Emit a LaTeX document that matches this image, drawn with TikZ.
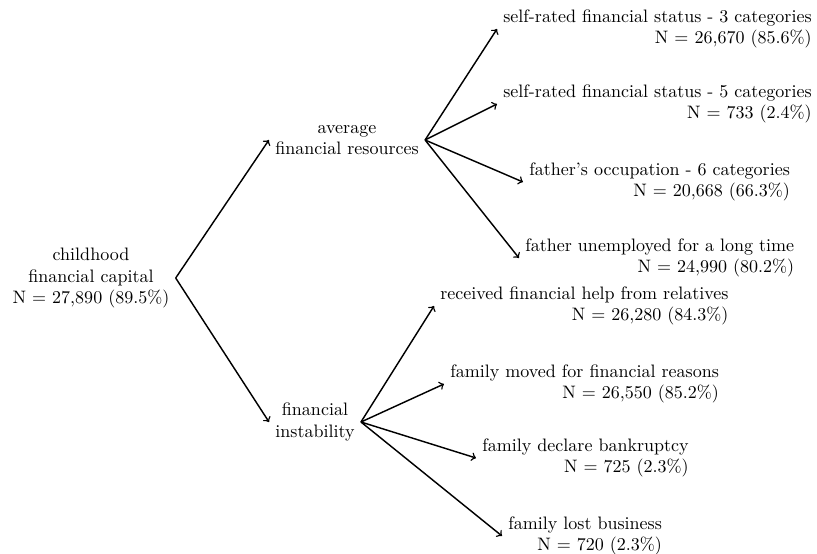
\documentclass[tikz,border=0pt]{standalone}
\usetikzlibrary{arrows}
\begin{document}
\begin{tikzpicture}[x=0.555pt,y=-0.555pt,
  inner/.style={align=center},
  leaf/.style={align=right,anchor=west},
  conn/.style={->,thick}]
\useasboundingbox (0,0) rectangle (817,554);
\node[inner] (root) at (91,278) {childhood\\financial capital\\N = 27,890 (89.5\%)};
\node[inner] (avg) at (347,140) {average\\financial resources};
\node[inner] (inst) at (315,422) {financial\\instability};
\node[leaf] (a1) at (497,29) {self-rated financial status - 3 categories\\N = 26,670 (85.6\%)};
\node[leaf] (a2) at (497,104) {self-rated financial status - 5 categories\\N = 733 (2.4\%)};
\node[leaf] (a3) at (523,182) {father's occupation - 6 categories\\N = 20,668 (66.3\%)};
\node[leaf] (a4) at (519,258) {father unemployed for a long time\\N = 24,990 (80.2\%)};
\node[leaf] (b1) at (434,306) {received financial help from relatives\\N = 26,280 (84.3\%)};
\node[leaf] (b2) at (444,384) {family moved for financial reasons\\N = 26,550 (85.2\%)};
\node[leaf] (b3) at (476,458) {family declare bankruptcy\\N = 725 (2.3\%)};
\node[leaf] (b4) at (502,536) {family lost business\\N = 720 (2.3\%)};
\draw[conn] (root.east) -- (avg.west);
\draw[conn] (root.east) -- (inst.west);
\foreach \c in {a1,a2,a3,a4} \draw[conn] (avg.east) -- (\c.west);
\foreach \c in {b1,b2,b3,b4} \draw[conn] (inst.east) -- (\c.west);
\end{tikzpicture}
\end{document}
